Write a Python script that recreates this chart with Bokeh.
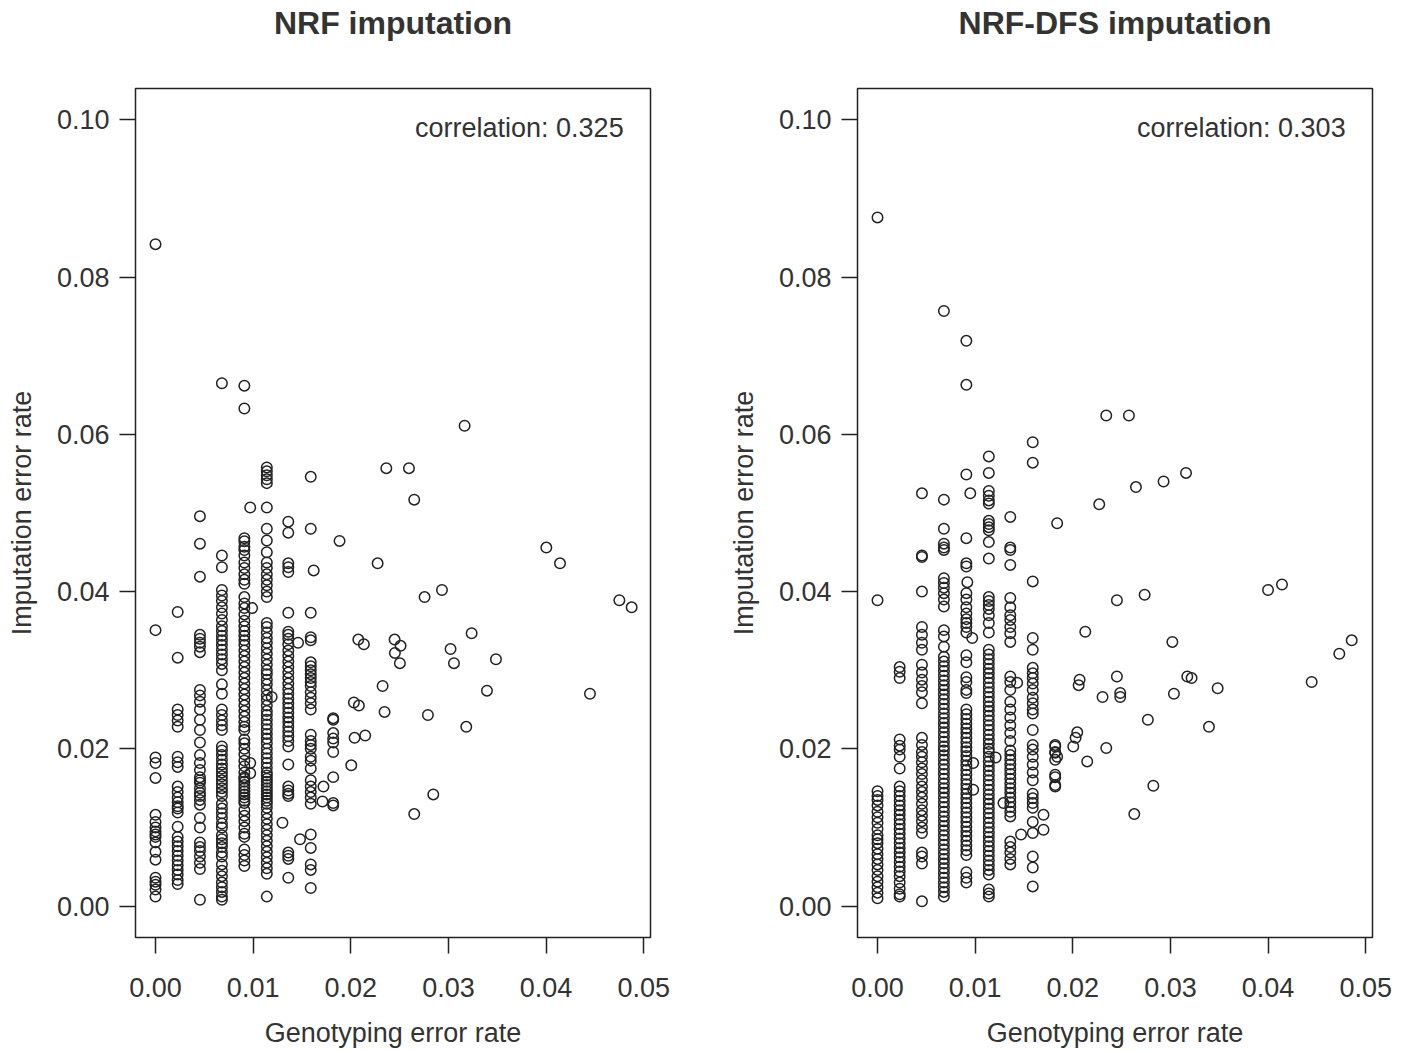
from bokeh.plotting import figure
from bokeh.layouts import row
from bokeh.models import FixedTicker, Label, Range1d, NumeralTickFormatter, LinearAxis
from bokeh.embed import file_html
from bokeh.resources import INLINE

# ---------------- data ----------------
TITLES = ["NRF imputation", "NRF-DFS imputation"]
CORR_TEXT = ["correlation: 0.325", "correlation: 0.303"]
X_LABEL = "Genotyping error rate"
Y_LABEL = "Imputation error rate"
X_TICKS = [0.0, 0.01, 0.02, 0.03, 0.04, 0.05]
Y_TICKS = [0.0, 0.02, 0.04, 0.06, 0.08, 0.10]

# discrete genotyping-error values where most samples fall
COL_X = [0.0, 0.00227, 0.00455, 0.0068, 0.0091, 0.0114, 0.0136, 0.0159, 0.0182]

# NRF imputation: imputation error rates per column
nrf_c0 = [0.0842, 0.0351, 0.0189, 0.0182, 0.0163, 0.0116, 0.0107, 0.0100, 0.0095, 0.0091, 0.0088, 0.0081, 0.0069, 0.0059, 0.0036, 0.0031, 0.0027, 0.0021, 0.0012]
nrf_c1 = [0.0374, 0.0316, 0.0250, 0.0243, 0.0236, 0.0228, 0.0190, 0.0183, 0.0177, 0.0152, 0.0145, 0.0138, 0.0132, 0.0127, 0.0124, 0.0119, 0.0101, 0.0088, 0.0082, 0.0076, 0.0070, 0.0064, 0.0058, 0.0052, 0.0046, 0.0040, 0.0033, 0.0028]
nrf_c2 = [0.0496, 0.0461, 0.0419, 0.0345, 0.0340, 0.0335, 0.0330, 0.0323, 0.0275, 0.0268, 0.0260, 0.0250, 0.0237, 0.0224, 0.0208, 0.0192, 0.0182, 0.0173, 0.0164, 0.0160, 0.0157, 0.0150, 0.0144, 0.0140, 0.0135, 0.0129, 0.0112, 0.0100, 0.0081, 0.0075, 0.0070, 0.0063, 0.0055, 0.0047, 0.0008]
nrf_c3 = [0.0665, 0.0446, 0.0431, 0.0402, 0.0395, 0.0388, 0.0380, 0.0372, 0.0364, 0.0356, 0.0350, 0.0344, 0.0338, 0.0332, 0.0326, 0.0320, 0.0314, 0.0308, 0.0300, 0.0282, 0.0270, 0.0250, 0.0243, 0.0236, 0.0230, 0.0224, 0.0203, 0.0198, 0.0192, 0.0186, 0.0180, 0.0175, 0.0170, 0.0165, 0.0160, 0.0155, 0.0150, 0.0145, 0.0140, 0.0130, 0.0124, 0.0118, 0.0112, 0.0105, 0.0100, 0.0090, 0.0085, 0.0080, 0.0075, 0.0068, 0.0063, 0.0053, 0.0045, 0.0038, 0.0030, 0.0024, 0.0018, 0.0012, 0.0008]
nrf_c4 = [0.0662, 0.0633, 0.0468, 0.0464, 0.0457, 0.0453, 0.0446, 0.0437, 0.0430, 0.0422, 0.0415, 0.0410, 0.0393, 0.0385, 0.0379, 0.0371, 0.0363, 0.0356, 0.0350, 0.0344, 0.0338, 0.0332, 0.0325, 0.0318, 0.0311, 0.0304, 0.0297, 0.0290, 0.0283, 0.0276, 0.0269, 0.0262, 0.0255, 0.0248, 0.0241, 0.0234, 0.0228, 0.0224, 0.0212, 0.0207, 0.0200, 0.0193, 0.0185, 0.0178, 0.0170, 0.0164, 0.0162, 0.0158, 0.0154, 0.0150, 0.0146, 0.0142, 0.0138, 0.0134, 0.0131, 0.0122, 0.0115, 0.0108, 0.0100, 0.0092, 0.0088, 0.0072, 0.0065, 0.0058, 0.0051]
nrf_c5 = [0.0558, 0.0553, 0.0548, 0.0543, 0.0538, 0.0507, 0.0480, 0.0465, 0.0450, 0.0437, 0.0430, 0.0422, 0.0415, 0.0408, 0.0400, 0.0393, 0.0360, 0.0355, 0.0348, 0.0341, 0.0335, 0.0328, 0.0321, 0.0314, 0.0307, 0.0300, 0.0295, 0.0288, 0.0282, 0.0275, 0.0268, 0.0262, 0.0255, 0.0248, 0.0243, 0.0237, 0.0231, 0.0225, 0.0219, 0.0213, 0.0207, 0.0200, 0.0194, 0.0188, 0.0182, 0.0176, 0.0170, 0.0166, 0.0162, 0.0158, 0.0154, 0.0150, 0.0146, 0.0142, 0.0138, 0.0134, 0.0130, 0.0125, 0.0118, 0.0111, 0.0104, 0.0097, 0.0090, 0.0083, 0.0076, 0.0069, 0.0062, 0.0055, 0.0048, 0.0041, 0.0012]
nrf_c6 = [0.0489, 0.0475, 0.0436, 0.0431, 0.0425, 0.0373, 0.0349, 0.0345, 0.0340, 0.0333, 0.0325, 0.0318, 0.0311, 0.0304, 0.0297, 0.0290, 0.0283, 0.0276, 0.0270, 0.0264, 0.0258, 0.0252, 0.0246, 0.0240, 0.0234, 0.0228, 0.0222, 0.0216, 0.0210, 0.0203, 0.0180, 0.0152, 0.0147, 0.0143, 0.0140, 0.0068, 0.0064, 0.0060, 0.0036]
nrf_c7 = [0.0546, 0.0480, 0.0373, 0.0342, 0.0338, 0.0310, 0.0305, 0.0300, 0.0295, 0.0290, 0.0285, 0.0280, 0.0272, 0.0265, 0.0258, 0.0250, 0.0218, 0.0210, 0.0205, 0.0200, 0.0190, 0.0185, 0.0175, 0.0160, 0.0152, 0.0145, 0.0138, 0.0130, 0.0091, 0.0074, 0.0053, 0.0046, 0.0023]
nrf_c8 = [0.0239, 0.0237, 0.0220, 0.0213, 0.0208, 0.0196, 0.0164, 0.0131, 0.0128]
nrf_extra_x = [0.0097, 0.0099, 0.0097, 0.0097, 0.0119, 0.0146, 0.0130, 0.0162, 0.0171, 0.0172, 0.0148, 0.01885, 0.03166, 0.02364, 0.02596, 0.0265, 0.02275, 0.04003, 0.04143, 0.02756, 0.02934, 0.04751, 0.04877, 0.02077, 0.02134, 0.02449, 0.0251, 0.02452, 0.02503, 0.03022, 0.03057, 0.03238, 0.03487, 0.02326, 0.03395, 0.0445, 0.02032, 0.02083, 0.02346, 0.0279, 0.03183, 0.02039, 0.02148, 0.02005, 0.02845, 0.0265]
nrf_extra_y = [0.0507, 0.0379, 0.0182, 0.0169, 0.0266, 0.0335, 0.0106, 0.0427, 0.0133, 0.0152, 0.0085, 0.04645, 0.0611, 0.0557, 0.0557, 0.0517, 0.0436, 0.0456, 0.0436, 0.0393, 0.0402, 0.0389, 0.0380, 0.0339, 0.0333, 0.0339, 0.0331, 0.0322, 0.0309, 0.0327, 0.0309, 0.0347, 0.0314, 0.0280, 0.0274, 0.0270, 0.0259, 0.0255, 0.0247, 0.0243, 0.0228, 0.0214, 0.0217, 0.0179, 0.0142, 0.0117]

# NRF-DFS imputation
dfs_c0 = [0.0876, 0.0389, 0.0146, 0.0140, 0.0135, 0.0128, 0.0120, 0.0113, 0.0106, 0.0098, 0.0090, 0.0085, 0.0080, 0.0073, 0.0066, 0.0060, 0.0053, 0.0046, 0.0038, 0.0031, 0.0024, 0.0017, 0.0010]
dfs_c1 = [0.0304, 0.0298, 0.0290, 0.0212, 0.0204, 0.0199, 0.0190, 0.0175, 0.0152, 0.0146, 0.0140, 0.0134, 0.0128, 0.0122, 0.0116, 0.0110, 0.0104, 0.0098, 0.0092, 0.0086, 0.0080, 0.0074, 0.0068, 0.0062, 0.0056, 0.0050, 0.0044, 0.0038, 0.0030, 0.0022, 0.0015, 0.0012]
dfs_c2 = [0.0525, 0.0446, 0.0444, 0.0400, 0.0355, 0.0345, 0.0335, 0.0326, 0.0307, 0.0297, 0.0288, 0.0280, 0.0272, 0.0258, 0.0214, 0.0205, 0.0196, 0.0190, 0.0183, 0.0175, 0.0168, 0.0160, 0.0152, 0.0145, 0.0138, 0.0130, 0.0122, 0.0115, 0.0108, 0.0100, 0.0093, 0.0068, 0.0063, 0.0054, 0.0006]
dfs_c3 = [0.0757, 0.0517, 0.0480, 0.0461, 0.0456, 0.0453, 0.0417, 0.0411, 0.0405, 0.0398, 0.0390, 0.0381, 0.0351, 0.0343, 0.0330, 0.0317, 0.0311, 0.0305, 0.0299, 0.0293, 0.0287, 0.0281, 0.0275, 0.0269, 0.0263, 0.0257, 0.0251, 0.0245, 0.0239, 0.0233, 0.0227, 0.0221, 0.0215, 0.0209, 0.0203, 0.0198, 0.0192, 0.0186, 0.0180, 0.0174, 0.0168, 0.0162, 0.0156, 0.0150, 0.0144, 0.0138, 0.0132, 0.0126, 0.0120, 0.0114, 0.0108, 0.0102, 0.0096, 0.0090, 0.0084, 0.0078, 0.0072, 0.0066, 0.0060, 0.0054, 0.0048, 0.0042, 0.0036, 0.0030, 0.0024, 0.0018, 0.0012]
dfs_c4 = [0.0719, 0.0663, 0.0549, 0.0468, 0.0436, 0.0432, 0.0398, 0.0390, 0.0380, 0.0372, 0.0365, 0.0360, 0.0355, 0.0348, 0.0319, 0.0310, 0.0291, 0.0285, 0.0275, 0.0271, 0.0250, 0.0244, 0.0238, 0.0232, 0.0226, 0.0220, 0.0214, 0.0208, 0.0202, 0.0197, 0.0191, 0.0185, 0.0179, 0.0173, 0.0167, 0.0161, 0.0155, 0.0149, 0.0143, 0.0137, 0.0131, 0.0125, 0.0119, 0.0113, 0.0107, 0.0101, 0.0095, 0.0089, 0.0083, 0.0077, 0.0071, 0.0065, 0.0043, 0.0036, 0.0030]
dfs_c5 = [0.0572, 0.0551, 0.0528, 0.0522, 0.0516, 0.0512, 0.0490, 0.0486, 0.0482, 0.0478, 0.0463, 0.0442, 0.0393, 0.0388, 0.0383, 0.0378, 0.0370, 0.0360, 0.0348, 0.0326, 0.0320, 0.0314, 0.0308, 0.0302, 0.0296, 0.0290, 0.0284, 0.0278, 0.0272, 0.0266, 0.0260, 0.0254, 0.0248, 0.0242, 0.0236, 0.0230, 0.0224, 0.0218, 0.0212, 0.0206, 0.0200, 0.0196, 0.0190, 0.0184, 0.0178, 0.0172, 0.0166, 0.0160, 0.0154, 0.0148, 0.0142, 0.0136, 0.0130, 0.0124, 0.0118, 0.0112, 0.0106, 0.0100, 0.0094, 0.0088, 0.0082, 0.0076, 0.0070, 0.0064, 0.0058, 0.0052, 0.0046, 0.0040, 0.0021, 0.0016, 0.0012]
dfs_c6 = [0.0495, 0.0456, 0.0453, 0.0434, 0.0392, 0.0380, 0.0370, 0.0364, 0.0355, 0.0347, 0.0336, 0.0292, 0.0285, 0.0275, 0.0260, 0.0250, 0.0240, 0.0230, 0.0220, 0.0210, 0.0198, 0.0192, 0.0186, 0.0180, 0.0174, 0.0168, 0.0162, 0.0156, 0.0150, 0.0144, 0.0138, 0.0132, 0.0126, 0.0120, 0.0114, 0.0082, 0.0075, 0.0068, 0.0060, 0.0053]
dfs_c7 = [0.0590, 0.0564, 0.0413, 0.0341, 0.0326, 0.0303, 0.0296, 0.0290, 0.0283, 0.0275, 0.0265, 0.0258, 0.0250, 0.0245, 0.0224, 0.0205, 0.0199, 0.0190, 0.0180, 0.0170, 0.0160, 0.0143, 0.0137, 0.0131, 0.0125, 0.0107, 0.0093, 0.0063, 0.0049, 0.0025]
dfs_c8 = [0.0205, 0.0203, 0.0196, 0.0195, 0.0186, 0.0167, 0.0164, 0.0154]
dfs_extra_x = [0.0095, 0.0092, 0.0097, 0.0098, 0.0098, 0.0121, 0.0143, 0.0129, 0.0147, 0.0170, 0.0170, 0.0184, 0.0184, 0.0182, 0.02343, 0.02575, 0.02647, 0.0293, 0.0316, 0.02271, 0.02452, 0.02736, 0.0400, 0.04143, 0.02128, 0.0302, 0.04857, 0.0473, 0.04447, 0.0207, 0.0206, 0.02452, 0.02486, 0.02486, 0.02305, 0.03173, 0.03217, 0.03036, 0.03484, 0.02769, 0.03395, 0.02046, 0.02029, 0.02005, 0.02343, 0.02148, 0.02825, 0.0263]
dfs_extra_y = [0.0525, 0.0412, 0.0341, 0.0182, 0.0148, 0.0189, 0.0284, 0.0131, 0.0091, 0.0116, 0.0097, 0.0487, 0.0190, 0.0152, 0.0624, 0.0624, 0.0533, 0.0540, 0.0551, 0.0511, 0.0389, 0.0396, 0.0402, 0.0409, 0.0349, 0.0336, 0.0338, 0.0321, 0.0285, 0.0288, 0.0281, 0.0292, 0.0271, 0.0266, 0.0266, 0.0292, 0.0290, 0.0270, 0.0277, 0.0237, 0.0228, 0.0221, 0.0214, 0.0203, 0.0201, 0.0184, 0.0153, 0.0117]

NRF_COLS = [nrf_c0, nrf_c1, nrf_c2, nrf_c3, nrf_c4, nrf_c5, nrf_c6, nrf_c7, nrf_c8]
DFS_COLS = [dfs_c0, dfs_c1, dfs_c2, dfs_c3, dfs_c4, dfs_c5, dfs_c6, dfs_c7, dfs_c8]


def gather(cols, ex_x, ex_y):
    xs, ys = [], []
    for cx, col in zip(COL_X, cols):
        xs += [cx] * len(col)
        ys += list(col)
    xs += list(ex_x)
    ys += list(ex_y)
    return xs, ys


# ---------------- styling ----------------
FONT = "Liberation Sans"
TXT = "#333333"
LINE = "#222222"
X0, X1 = -0.00205, 0.0507
Y0, Y1 = -0.004, 0.104
FRAME_W = 515


def make_plot(title, corr, xs, ys, left_border, width):
    p = figure(width=width, height=1050,
               x_range=Range1d(X0, X1), y_range=Range1d(Y0, Y1),
               output_backend="svg", toolbar_location=None,
               min_border_left=left_border,
               min_border_right=width - left_border - FRAME_W,
               min_border_top=88, min_border_bottom=113,
               background_fill_color="white", border_fill_color="white")
    p.outline_line_color = LINE
    p.outline_line_width = 1.5
    p.xgrid.visible = False
    p.ygrid.visible = False

    bottom = p.below[0]
    left = p.left[0]
    bottom.ticker = FixedTicker(ticks=X_TICKS)
    left.ticker = FixedTicker(ticks=Y_TICKS)
    bottom.formatter = NumeralTickFormatter(format="0.00")
    left.formatter = NumeralTickFormatter(format="0.00")
    bottom.axis_label = X_LABEL
    left.axis_label = Y_LABEL
    for ax in (bottom, left):
        ax.axis_line_color = None
        ax.major_tick_out = 16
        ax.major_tick_in = 0
        ax.minor_tick_line_color = None
        ax.major_tick_line_color = LINE
        ax.major_tick_line_width = 1.5
        ax.major_label_text_font = FONT
        ax.major_label_text_font_size = "27px"
        ax.major_label_text_color = TXT
        ax.axis_label_text_font = FONT
        ax.axis_label_text_font_size = "27px"
        ax.axis_label_text_font_style = "normal"
        ax.axis_label_text_color = TXT
    bottom.major_label_standoff = 24
    bottom.axis_label_standoff = 18
    left.major_label_standoff = 10
    left.axis_label_standoff = 17

    # panel title drawn as the label of a bare axis above the frame
    top = LinearAxis(ticker=FixedTicker(ticks=[]), axis_label=title)
    top.axis_line_color = None
    top.major_tick_line_color = None
    top.minor_tick_line_color = None
    top.major_tick_out = 0
    top.major_tick_in = 0
    top.minor_tick_out = 0
    top.major_label_standoff = 0
    top.axis_label_standoff = 48
    top.axis_label_text_font = FONT
    top.axis_label_text_font_size = "32px"
    top.axis_label_text_font_style = "bold"
    top.axis_label_text_color = TXT
    p.add_layout(top, "above")

    p.scatter(xs, ys, marker="circle", size=10.5, fill_color=None,
              line_color=LINE, line_width=1.5)

    p.add_layout(Label(x=0.04795, y=0.099, text=corr,
                       text_align="right", text_baseline="middle",
                       text_font=FONT, text_font_size="27px", text_color=TXT))
    return p


nx, ny = gather(NRF_COLS, nrf_extra_x, nrf_extra_y)
dx, dy = gather(DFS_COLS, dfs_extra_x, dfs_extra_y)

p1 = make_plot(TITLES[0], CORR_TEXT[0], nx, ny, 135, 690)
p2 = make_plot(TITLES[1], CORR_TEXT[1], dx, dy, 167, 707)

layout = row(p1, p2)
open("out.html", "w").write(file_html(layout, INLINE))
